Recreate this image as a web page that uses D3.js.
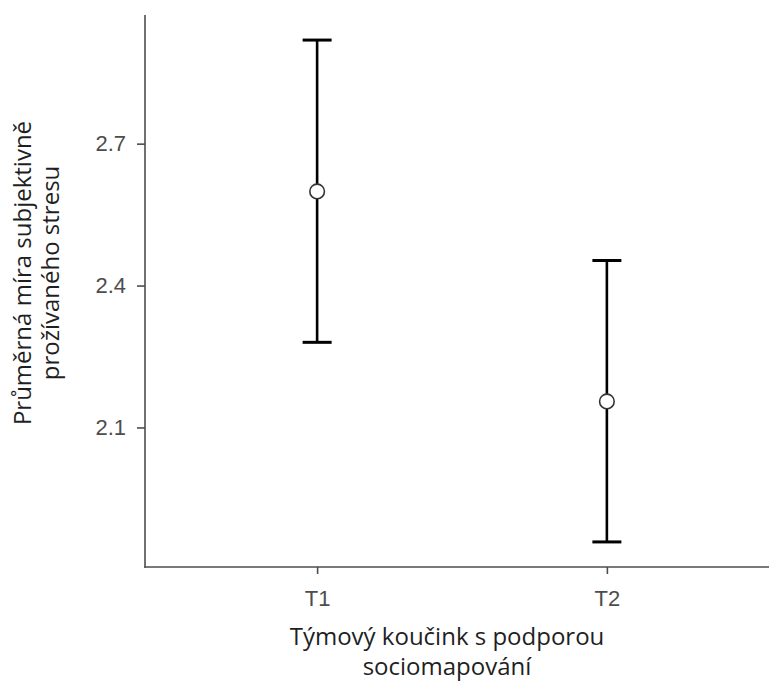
<!DOCTYPE html>
<html>
<head>
<meta charset="utf-8">
<script src="https://cdn.jsdelivr.net/npm/d3@7"></script>
<style>
  html, body { margin: 0; padding: 0; background: #fff; }
  svg { display: block; }
</style>
</head>
<body>
<svg id="chart" width="769" height="684"></svg>
<script>
// ---- data ----
const categories = ["T1", "T2"];
const means = [2.599, 2.155];
const upper = [2.919, 2.453];
const lower = [2.280, 1.858];
const yTicks = [2.1, 2.4, 2.7];
const xTitleLines = ["Týmový koučink s podporou", "sociomapování"];
const yTitleLines = ["Průměrná míra subjektivně", "prožívaného stresu"];

(function () {
const svg = d3.select("#chart");
svg.append("rect").attr("width", 769).attr("height", 684).attr("fill", "#fff");

const mLeft = 145, mBottom = 567, mTop = 15, mRight = 779;

const y = d3.scaleLinear().domain([1.805, 2.972]).range([mBottom, mTop]);
const x = d3.scalePoint().domain(categories).range([mLeft, mRight]).padding(0.594);

const axisColor = "#4d4d4d";
const tickFont = "'Liberation Sans', Arial, sans-serif";
const titleFont = "'Open Sans', 'Noto Sans', sans-serif";

// y axis
const yAxis = svg.append("g").attr("transform", `translate(${mLeft},0)`)
  .call(d3.axisLeft(y).tickValues(yTicks).tickFormat(d3.format(".1f")).tickSize(8).tickPadding(11));
yAxis.select(".domain").remove();
yAxis.selectAll(".tick line").attr("stroke", axisColor).attr("stroke-width", 1.6);
yAxis.selectAll(".tick text").attr("fill", axisColor).attr("font-family", tickFont).attr("font-size", 22);
svg.append("line").attr("x1", mLeft).attr("x2", mLeft).attr("y1", mTop).attr("y2", mBottom + 0.8)
  .attr("stroke", axisColor).attr("stroke-width", 1.6);

// x axis
const xAxis = svg.append("g").attr("transform", `translate(0,${mBottom})`)
  .call(d3.axisBottom(x).tickSize(7).tickPadding(16));
xAxis.select(".domain").remove();
xAxis.selectAll(".tick line").attr("stroke", axisColor).attr("stroke-width", 1.6);
xAxis.selectAll(".tick text").attr("fill", axisColor).attr("font-family", tickFont).attr("font-size", 22);
svg.append("line").attr("x1", mLeft - 0.8).attr("x2", 769).attr("y1", mBottom).attr("y2", mBottom)
  .attr("stroke", axisColor).attr("stroke-width", 1.6);

// error bars
const capHalf = 14.5;
const eb = svg.append("g");
categories.forEach((c, i) => {
  const cx = x(c);
  eb.append("line").attr("x1", cx).attr("x2", cx).attr("y1", y(upper[i])).attr("y2", y(lower[i]))
    .attr("stroke", "#000").attr("stroke-width", 2.6);
  [upper[i], lower[i]].forEach(v => {
    eb.append("line").attr("x1", cx - capHalf).attr("x2", cx + capHalf).attr("y1", y(v)).attr("y2", y(v))
      .attr("stroke", "#000").attr("stroke-width", 3);
  });
});
eb.selectAll("circle").data(categories).join("circle")
  .attr("cx", d => x(d)).attr("cy", (d, i) => y(means[i])).attr("r", 7.3)
  .attr("fill", "#fff").attr("stroke", "#333").attr("stroke-width", 1.6);

// x title
const xt = svg.append("text").attr("text-anchor", "middle").attr("font-family", titleFont)
  .attr("font-size", 24).attr("fill", "#1f1f1f");
xTitleLines.forEach((t, i) => {
  xt.append("tspan").attr("x", 447).attr("y", 645 + i * 30).text(t);
});

// y title
const yt = svg.append("text").attr("text-anchor", "middle").attr("font-family", titleFont)
  .attr("font-size", 24).attr("fill", "#1f1f1f")
  .attr("transform", "translate(0,273) rotate(-90)");
yTitleLines.forEach((t, i) => {
  yt.append("tspan").attr("x", 0).attr("y", 31 + i * 28).text(t);
});
})();
</script>
</body>
</html>
